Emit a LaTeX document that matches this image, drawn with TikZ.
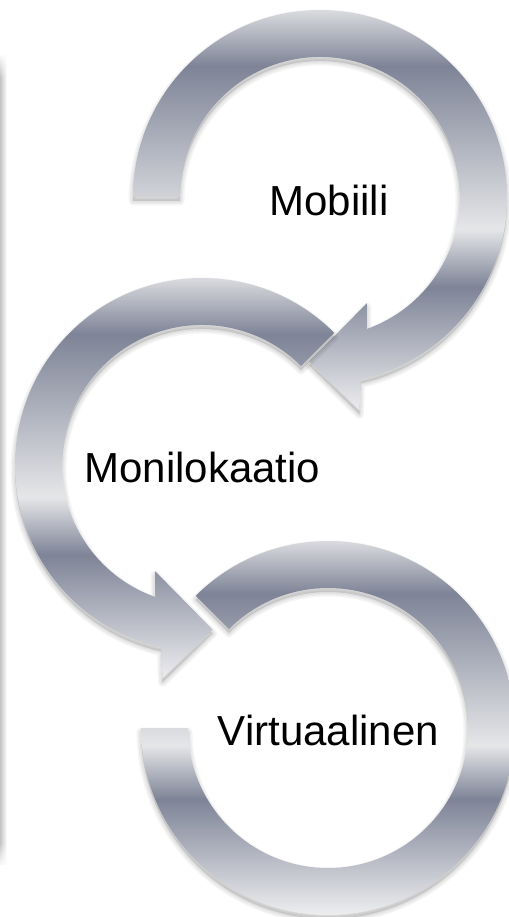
\documentclass[tikz,border=0pt]{standalone}
\usepackage{fontspec}
\setmainfont{Liberation Sans}
\usetikzlibrary{fadings}
\definecolor{svtop}{HTML}{DADBDF}
\definecolor{svdark}{HTML}{7E8497}
\definecolor{svlight}{HTML}{E5E6E8}
\definecolor{svbot}{HTML}{EEEEF0}
\definecolor{edgegray}{HTML}{C4C4C4}
\pgfdeclareverticalshading{silver}{100bp}{color(0bp)=(svbot); color(25bp)=(svbot); color(40.5bp)=(svdark); color(47.7bp)=(svlight); color(68bp)=(svdark); color(75bp)=(svtop); color(100bp)=(svtop)}
\pgfdeclareverticalshading{vfadeshade}{100bp}{color(0bp)=(transparent!100); color(25bp)=(transparent!100); color(26.5bp)=(transparent!0); color(73.5bp)=(transparent!0); color(75bp)=(transparent!100); color(100bp)=(transparent!100)}
\pgfdeclarefading{vfade}{\pgfuseshading{vfadeshade}}
\def\arcA{(180:187pt) arc[start angle=180,end angle=-77.5,radius=187pt] -- (-79.5:217pt) -- (-93.7:165pt) -- (-66.1:116pt) -- (-70.5:140pt) arc[start angle=-70.5,end angle=180,radius=140pt] -- cycle}
\def\arcB{(45:187pt) arc[start angle=45,end angle=257.5,radius=187pt] -- (259.5:217pt) -- (273.7:165pt) -- (246.1:116pt) -- (250.5:140pt) arc[start angle=250.5,end angle=45,radius=140pt] -- cycle}
\def\arcC{(135:187pt) arc[start angle=135,end angle=-180,radius=187pt] -- (180:140pt) arc[start angle=-180,end angle=135,radius=140pt] -- cycle}
\newcommand\silverarc[3]{%
  \begin{scope}[shift={#1}]
    \foreach \w in {9,6,3}{\path[fill=black,draw=black,opacity=0.04,line width=\w pt,line join=round,yshift=-4pt] #2;}
    \begin{scope}
      \clip #2;
      \shade[shading=silver] (-195pt,187pt) rectangle (195pt,#3);
    \end{scope}
  \end{scope}}
\begin{document}
\begin{tikzpicture}[x=1pt,y=1pt,
  lbl/.style={font=\fontsize{42}{50}\selectfont, inner sep=0pt, anchor=base, text=black}]
\useasboundingbox (0,0) rectangle (508,-917);
\fill[white] (0,0) rectangle (508,-917);
% left edge band
\shade[left color=edgegray, right color=white, path fading=vfade] (0,-55) rectangle (7,-865);
% arcs
\silverarc{(320,-197)}{\arcA}{-214.3pt}
\silverarc{(202,-465)}{\arcB}{-214.3pt}
\silverarc{(328,-728)}{\arcC}{-187pt}
% labels
\node[lbl] (mobiili) at (329,-216) {Mobiili};
\node[lbl] (moni) at (202.5,-482) {Monilokaatio};
\node[lbl] (virt) at (328.5,-745) {Virtuaalinen};
\end{tikzpicture}
\end{document}
